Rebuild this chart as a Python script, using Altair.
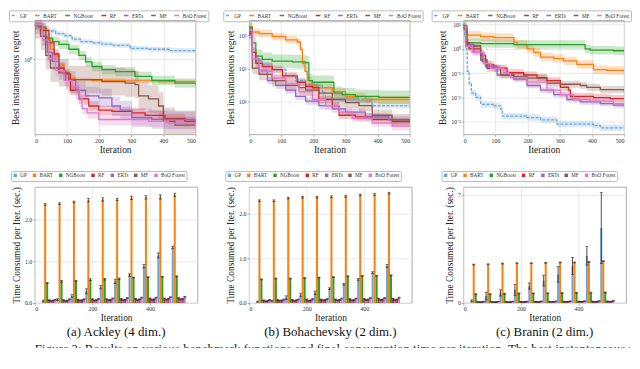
import altair as alt
import pandas as pd

METHODS = ["GP", "BART", "NGBoost", "RF", "ERTs", "MF", "BoO Forest"]
COLORS = ["#6ba6da", "#ff7f0e", "#2ca02c", "#d62728", "#9467bd", "#8c564b", "#e377c2"]
DASHES = [[3, 1.5], [1, 0], [1, 0], [1, 0], [1, 0], [1, 0], [1, 0]]

# ---------------- Best instantaneous regret (top row) ----------------
ACK_X = {
    "GP": [0, 18, 39, 65, 91, 116, 142, 178, 209, 240, 297, 354, 421, 500],
    "BART": [0, 20, 34, 49, 60, 75, 91, 106, 127, 178, 281, 385, 500],
    "NGBoost": [0, 13, 34, 55, 75, 106, 137, 158, 178, 209, 251, 312, 364, 436, 500],
    "RF": [0, 24, 44, 60, 75, 91, 111, 137, 168, 199, 240, 302, 343, 405, 467, 500],
    "ERTs": [0, 24, 39, 55, 75, 96, 127, 158, 199, 240, 266, 302, 364, 500],
    "MF": [0, 18, 34, 49, 75, 106, 147, 209, 281, 312, 323, 354, 385, 400, 436, 500],
    "BoO Forest": [0, 24, 44, 65, 91, 116, 137, 147, 163, 199, 281, 354, 416, 500],
}
ACK_Y = {
    "GP": [2.33, 2.11, 2.0, 1.88, 1.79, 1.64, 1.54, 1.50, 1.45, 1.41, 1.31, 1.28, 1.24, 1.24],
    "BART": [2.33, 2.11, 1.61, 1.28, 1.10, 0.875, 0.72, 0.63, 0.61, 0.60, 0.59, 0.58, 0.56],
    "NGBoost": [2.33, 2.2, 1.68, 1.54, 1.44, 1.28, 1.10, 0.94, 0.84, 0.78, 0.74, 0.66, 0.60, 0.56, 0.53],
    "RF": [2.33, 2.03, 1.50, 1.14, 0.81, 0.70, 0.47, 0.38, 0.32, 0.29, 0.28, 0.27, 0.255, 0.237, 0.22, 0.21],
    "ERTs": [2.33, 1.75, 1.19, 0.95, 0.76, 0.60, 0.47, 0.41, 0.39, 0.32, 0.29, 0.24, 0.23, 0.216],
    "MF": [2.33, 1.75, 1.10, 0.81, 0.72, 0.61, 0.61, 0.58, 0.56, 0.54, 0.41, 0.38, 0.32, 0.22, 0.20, 0.20],
    "BoO Forest": [2.33, 1.61, 1.02, 0.76, 0.60, 0.51, 0.38, 0.30, 0.27, 0.23, 0.23, 0.22, 0.21, 0.196],
}
ACK_BAND = {"GP": 1.06, "BART": 1.05, "NGBoost": 1.12, "RF": 1.12, "ERTs": 1.25, "MF": 1.4, "BoO Forest": 1.15}

BOH_X = {
    "GP": [0, 10, 21, 41, 72, 114, 145, 176, 228, 238, 321, 383, 500],
    "BART": [0, 10, 31, 72, 114, 150, 160, 166, 174, 181, 197, 259, 300, 362, 500],
    "NGBoost": [0, 10, 21, 41, 72, 135, 176, 186, 197, 264, 290, 331, 404, 500],
    "RF": [0, 10, 21, 41, 72, 104, 150, 176, 197, 217, 259, 280, 331, 383, 445, 500],
    "ERTs": [0, 10, 31, 57, 83, 114, 145, 176, 217, 259, 300, 362, 435, 500],
    "MF": [0, 10, 31, 72, 114, 155, 176, 217, 259, 300, 342, 383, 445, 500],
    "BoO Forest": [0, 10, 31, 72, 114, 155, 197, 238, 280, 321, 383, 445, 500],
}
BOH_Y = {
    "GP": [1585, 380, 177, 127, 92, 59, 42.5, 30.6, 17.7, 11.4, 11.4, 7.4, 7.4],
    "BART": [1845, 1270, 1140, 916, 735, 631, 380, 142, 82, 42.5, 26.3, 19.7, 14.2, 11.4, 11],
    "NGBoost": [1770, 590, 235, 189, 166, 158, 150, 42.5, 38, 17.7, 16, 14.2, 13.3, 13.3],
    "RF": [1270, 306, 142, 114, 92, 59, 38, 28.6, 26.3, 11.4, 7.4, 3.8, 3.4, 2.86, 2.45, 2.2],
    "ERTs": [1020, 197, 82, 42.5, 30.6, 22, 14.2, 10.2, 7.4, 5.9, 4.7, 3.4, 2.74, 2.45],
    "MF": [1140, 102, 66, 42.5, 30.6, 26.3, 22, 17.7, 11.4, 9.2, 7.4, 3.8, 2.74, 2.35],
    "BoO Forest": [1420, 197, 82, 51, 34, 19.7, 11.4, 7.4, 4.7, 3.06, 2.2, 1.77, 1.7],
}
BOH_BAND = {"GP": 1.2, "BART": 1.3, "NGBoost": 1.6, "RF": 1.3, "ERTs": 1.3, "MF": 1.5, "BoO Forest": 1.3}

BRA_X = {
    "GP": [0, 4, 7, 12, 18, 25, 38, 54, 95, 116, 121, 198, 240, 291, 405, 426, 500],
    "BART": [0, 12, 54, 95, 157, 167, 198, 219, 240, 281, 312, 353, 405, 446, 500],
    "NGBoost": [0, 7, 12, 54, 157, 374, 379, 395, 467, 500],
    "RF": [0, 7, 18, 54, 69, 95, 136, 188, 229, 260, 302, 327, 333, 405, 457, 500],
    "ERTs": [0, 7, 33, 59, 69, 105, 157, 198, 240, 281, 322, 364, 426, 467, 500],
    "MF": [0, 12, 54, 74, 116, 157, 198, 255, 260, 302, 364, 384, 426, 500],
    "BoO Forest": [0, 7, 28, 64, 85, 126, 141, 147, 198, 260, 302, 343, 395, 467, 500],
}
BRA_Y = {
    "GP": [10, 3.2, 1.0, 0.12, 0.037, 0.015, 0.01, 0.0052, 0.0045, 0.0033, 0.0017, 0.00146, 0.00118, 0.0008, 0.00069, 0.00056, 0.00056],
    "BART": [9.1, 3.7, 3.2, 2.95, 1.9, 1.52, 1.0, 0.72, 0.46, 0.40, 0.32, 0.23, 0.14, 0.13, 0.113],
    "NGBoost": [9.1, 2.07, 1.78, 1.67, 1.52, 1.5, 1.0, 0.89, 0.84, 0.84],
    "RF": [7.9, 1.78, 1.0, 0.54, 0.22, 0.16, 0.104, 0.084, 0.066, 0.049, 0.026, 0.020, 0.011, 0.0099, 0.009, 0.009],
    "ERTs": [9.1, 1.52, 0.72, 0.30, 0.19, 0.084, 0.057, 0.031, 0.020, 0.013, 0.0082, 0.0065, 0.0056, 0.0048, 0.0043],
    "MF": [6.8, 1.32, 0.35, 0.16, 0.084, 0.070, 0.063, 0.063, 0.039, 0.035, 0.031, 0.026, 0.021, 0.019],
    "BoO Forest": [7.9, 1.32, 0.72, 0.25, 0.16, 0.104, 0.093, 0.066, 0.043, 0.020, 0.013, 0.0082, 0.0071, 0.0056, 0.0053],
}
BRA_BAND = {"GP": 1.35, "BART": 1.5, "NGBoost": 1.5, "RF": 1.4, "ERTs": 1.3, "MF": 1.4, "BoO Forest": 1.3}

TOP_DOMAINS = [[0.16, 2.6], [1, 2880], [0.0003, 15.2]]
TOP_TICKS = [[1], [10, 100, 1000], [0.001, 0.01, 0.1, 1, 10]]

# ---------------- Time consumed per iteration (bottom row) ----------------
GROUPS = [50, 100, 150, 200, 250, 300, 350, 400, 450, 500]
ACK_T = {
    "GP": [0.05, 0.08, 0.17, 0.28, 0.38, 0.52, 0.67, 0.88, 1.14, 1.33],
    "BART": [2.36, 2.38, 2.42, 2.46, 2.48, 2.48, 2.52, 2.53, 2.54, 2.59],
    "NGBoost": [0.48, 0.52, 0.53, 0.56, 0.57, 0.58, 0.61, 0.62, 0.63, 0.64],
    "RF": [0.07, 0.07, 0.08, 0.09, 0.09, 0.10, 0.10, 0.11, 0.11, 0.12],
    "ERTs": [0.05, 0.05, 0.06, 0.06, 0.07, 0.07, 0.07, 0.08, 0.08, 0.09],
    "MF": [0.06, 0.06, 0.07, 0.07, 0.08, 0.08, 0.09, 0.09, 0.10, 0.10],
    "BoO Forest": [0.08, 0.09, 0.09, 0.10, 0.11, 0.12, 0.13, 0.13, 0.14, 0.15],
}
ACK_E = {
    "GP": [0.02, 0.02, 0.03, 0.06, 0.04, 0.05, 0.03, 0.04, 0.06, 0.03],
    "BART": [0.02, 0.02, 0.02, 0.04, 0.04, 0.03, 0.04, 0.04, 0.05, 0.04],
    "NGBoost": [0.01, 0.02, 0.01, 0.02, 0.02, 0.02, 0.01, 0.01, 0.01, 0.01],
    "RF": [0.01] * 10, "ERTs": [0.01] * 10, "MF": [0.01] * 10, "BoO Forest": [0.01] * 10,
}
BOH_T = {
    "GP": [0.03, 0.05, 0.12, 0.18, 0.23, 0.32, 0.42, 0.53, 0.68, 0.83],
    "BART": [2.29, 2.29, 2.35, 2.37, 2.37, 2.38, 2.39, 2.42, 2.43, 2.46],
    "NGBoost": [0.53, 0.55, 0.55, 0.56, 0.57, 0.58, 0.60, 0.61, 0.61, 0.62],
    "RF": [0.06, 0.07, 0.07, 0.08, 0.08, 0.08, 0.09, 0.09, 0.10, 0.10],
    "ERTs": [0.04, 0.05, 0.05, 0.05, 0.06, 0.06, 0.06, 0.07, 0.07, 0.07],
    "MF": [0.05, 0.06, 0.06, 0.06, 0.07, 0.07, 0.07, 0.08, 0.08, 0.08],
    "BoO Forest": [0.07, 0.08, 0.08, 0.09, 0.09, 0.10, 0.10, 0.11, 0.11, 0.12],
}
BOH_E = {
    "GP": [0.01, 0.01, 0.04, 0.04, 0.04, 0.02, 0.02, 0.02, 0.02, 0.03],
    "BART": [0.02] * 10, "NGBoost": [0.01] * 10,
    "RF": [0.01] * 10, "ERTs": [0.01] * 10, "MF": [0.01] * 10, "BoO Forest": [0.01] * 10,
}
BRA_T = {
    "GP": [0.15, 0.45, 0.65, 0.85, 1.1, 1.45, 1.85, 2.4, 3.05, 4.85],
    "BART": [2.48, 2.5, 2.55, 2.57, 2.57, 2.6, 2.62, 2.62, 2.65, 2.7],
    "NGBoost": [0.57, 0.57, 0.6, 0.62, 0.62, 0.63, 0.65, 0.66, 0.67, 0.68],
    "RF": [0.08, 0.08, 0.08, 0.09, 0.09, 0.09, 0.10, 0.10, 0.10, 0.11],
    "ERTs": [0.06, 0.06, 0.06, 0.07, 0.07, 0.07, 0.07, 0.08, 0.08, 0.08],
    "MF": [0.07, 0.07, 0.07, 0.08, 0.08, 0.08, 0.09, 0.09, 0.09, 0.10],
    "BoO Forest": [0.09, 0.09, 0.10, 0.10, 0.11, 0.11, 0.12, 0.12, 0.13, 0.14],
}
BRA_E = {
    "GP": [0.05, 0.25, 0.2, 0.35, 0.2, 0.35, 0.5, 0.55, 0.6, 2.3],
    "BART": [0.03] * 10, "NGBoost": [0.03] * 10,
    "RF": [0.02] * 10, "ERTs": [0.02] * 10, "MF": [0.02] * 10, "BoO Forest": [0.02] * 10,
}
BOT_DOMAINS = [[0, 2.78], [0, 2.6], [0, 7.5]]
BOT_TICKS = [[0, 0.5, 1.0, 1.5, 2.0, 2.5], [0, 0.5, 1.0, 1.5, 2.0, 2.5], [0, 1, 2, 3, 4, 5, 6, 7]]
BOT_FORMATS = [".1f", ".1f", "d"]
CAPTIONS = ["(a) Ackley (4 dim.)", "(b) Bohachevsky (2 dim.)", "(c) Branin (2 dim.)"]
FIG_CAPTION = "Figure 3:  Results on various benchmark functions and final consumption time per iteration.  The best instantaneous regret"
X_TICKS = [0, 100, 200, 300, 400, 500]
BAR_WIDTH_ITERS = 7

FONT = "Liberation Serif"


def top_df(X, Y, B):
    rows = []
    for k, m in enumerate(METHODS):
        for it, v in zip(X[m], Y[m]):
            rows.append({"method": m, "shade": COLORS[k], "k": k, "iter": it, "value": v,
                         "lo": v / B[m], "hi": v * B[m]})
    return pd.DataFrame(rows)


def bot_df(T, E):
    rows = []
    for k, m in enumerate(METHODS):
        for g, v, e in zip(GROUPS, T[m], E[m]):
            rows.append({"method": m, "k": k, "group": g, "value": v, "err": e})
    return pd.DataFrame(rows)


def legend(symbol, lx, ly):
    return alt.Legend(
        title=None, orient="none", legendX=lx, legendY=ly, direction="horizontal",
        columns=7, gridAlign="each", symbolType=symbol,
        symbolSize=22 if symbol == "stroke" else 12,
        symbolStrokeWidth=1.5, labelFont=FONT, labelFontSize=5.2, labelColor="#333",
        labelOffset=2.5, columnPadding=4.5, padding=1.6, strokeColor="#bbbbbb",
        cornerRadius=1, rowPadding=0, labelLimit=80,
    )


def top_chart(df, dom, ticks, lx):
    yscale = alt.Scale(type="log", domain=dom, nice=False)
    xenc = alt.X("iter:Q", scale=alt.Scale(domain=[0, 500], nice=False),
                 axis=alt.Axis(values=X_TICKS, title="Iteration", format="d"))
    band = alt.Chart(df).mark_area(interpolate="step-after", opacity=0.25, clip=True).encode(
        x=xenc,
        y=alt.Y("lo:Q", scale=yscale,
                axis=alt.Axis(values=ticks, title="Best instantaneous regret",
                              labelExpr="'10' + ['⁻³','⁻²','⁻¹','⁰','¹','²','³'][round(log(datum.value)/LN10)+3]")),
        y2="hi:Q",
        fill=alt.Fill("shade:N", scale=None),
        detail="method:N",
    )
    line = alt.Chart(df).mark_line(interpolate="step-after", strokeWidth=1.3, clip=True).encode(
        x=xenc,
        y=alt.Y("value:Q", scale=yscale),
        stroke=alt.Stroke("method:N", scale=alt.Scale(domain=METHODS, range=COLORS),
                          legend=legend("stroke", lx, -10)),
        strokeDash=alt.StrokeDash("method:N", scale=alt.Scale(domain=METHODS, range=DASHES),
                                  legend=legend("stroke", lx, -10)),
    )
    return alt.layer(band, line).properties(width=162, height=115)


def bot_chart(df, dom, ticks, fmt, lx, caption):
    xscale = alt.Scale(domain=[0, 565], nice=False)
    base = alt.Chart(df).transform_calculate(
        xs=f"datum.group + (datum.k - 3.5) * {BAR_WIDTH_ITERS}",
        xe=f"datum.group + (datum.k - 2.5) * {BAR_WIDTH_ITERS}",
        xm=f"datum.group + (datum.k - 3) * {BAR_WIDTH_ITERS}",
        lo="datum.value - datum.err",
        hi="datum.value + datum.err",
    )
    yscale = alt.Scale(domain=dom, nice=False)
    bars = base.mark_bar().encode(
        x=alt.X("xs:Q", scale=xscale, axis=alt.Axis(values=X_TICKS, title="Iteration", format="d")),
        x2="xe:Q",
        y=alt.Y("value:Q", scale=yscale,
                axis=alt.Axis(values=ticks, format=fmt, title="Time Consumed per Iter. (sec.)")),
        y2=alt.datum(0),
        fill=alt.Fill("method:N", scale=alt.Scale(domain=METHODS, range=COLORS),
                      legend=legend("square", lx, -16)),
    )
    rule = base.mark_rule(color="#222", strokeWidth=0.8).encode(
        x=alt.X("xm:Q", scale=xscale), y=alt.Y("lo:Q", scale=yscale), y2="hi:Q")
    cap_hi = base.mark_tick(color="#222", orient="horizontal", size=3, thickness=0.8).encode(
        x=alt.X("xm:Q", scale=xscale), y=alt.Y("hi:Q", scale=yscale))
    cap_lo = base.mark_tick(color="#222", orient="horizontal", size=3, thickness=0.8).encode(
        x=alt.X("xm:Q", scale=xscale), y=alt.Y("lo:Q", scale=yscale))
    return alt.layer(bars, rule, cap_hi, cap_lo).properties(
        width=164, height=117,
        title=alt.TitleParams(caption, orient="bottom", font=FONT, fontSize=13,
                              fontWeight="normal", color="#111", offset=4, anchor="middle"),
    )


tops = [
    top_chart(top_df(ACK_X, ACK_Y, ACK_BAND), TOP_DOMAINS[0], TOP_TICKS[0], -26),
    top_chart(top_df(BOH_X, BOH_Y, BOH_BAND), TOP_DOMAINS[1], TOP_TICKS[1], -26),
    top_chart(top_df(BRA_X, BRA_Y, BRA_BAND), TOP_DOMAINS[2], TOP_TICKS[2], -32),
]
bots = [
    bot_chart(bot_df(ACK_T, ACK_E), BOT_DOMAINS[0], BOT_TICKS[0], BOT_FORMATS[0], -24, CAPTIONS[0]),
    bot_chart(bot_df(BOH_T, BOH_E), BOT_DOMAINS[1], BOT_TICKS[1], BOT_FORMATS[1], -24, CAPTIONS[1]),
    bot_chart(bot_df(BRA_T, BRA_E), BOT_DOMAINS[2], BOT_TICKS[2], BOT_FORMATS[2], -22, CAPTIONS[2]),
]

RES = dict(fill="independent", stroke="independent", strokeDash="independent",
           x="independent", y="independent")

grid = alt.concat(*tops, *bots, columns=3, spacing={"row": 53, "column": 52},
                  bounds="flush").resolve_scale(**RES)

cap_chart = alt.Chart(pd.DataFrame({"t": [FIG_CAPTION]})).mark_text(
    align="left", baseline="top", font=FONT, fontSize=13, color="#111", clip=True
).encode(x=alt.value(0), y=alt.value(0), text="t:N").properties(
    width=600, height=5, view=alt.ViewBackground(stroke="transparent"))

chart = alt.vconcat(grid, cap_chart, spacing=2).resolve_scale(**RES).properties(
    padding=0,
).configure_view(stroke="#999999", strokeWidth=0.8).configure_axis(
    labelFont=FONT, labelFontSize=6, labelColor="#333", titleFont=FONT, titleFontSize=9.5,
    titleFontWeight="normal", titleColor="#222", gridColor="#e3e3e3", gridWidth=0.8,
    domain=False, tickSize=2, tickColor="#777", tickWidth=0.6, labelPadding=1, titlePadding=3,
).configure_axisX(titlePadding=1)

chart.save("out.html", embed_options={"renderer": "svg", "actions": False})
